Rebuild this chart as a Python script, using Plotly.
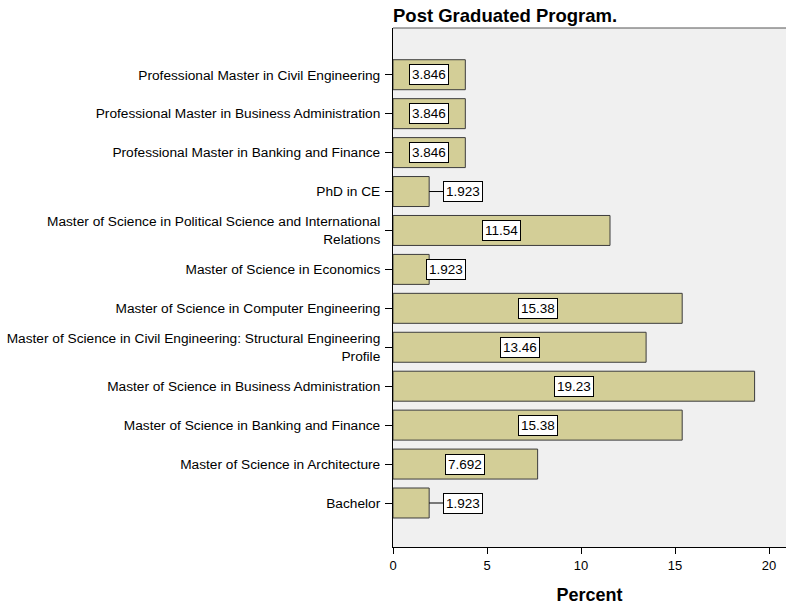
import plotly.graph_objects as go

# Programs, listed top to bottom as in the chart
programs = [
    "Professional Master in Civil Engineering",
    "Professional Master in Business Administration",
    "Professional Master in Banking and Finance",
    "PhD in CE",
    "Master of Science in Political Science and International<br>Relations",
    "Master of Science in Economics",
    "Master of Science in Computer Engineering",
    "Master of Science in Civil Engineering: Structural Engineering<br>Profile",
    "Master of Science in Business Administration",
    "Master of Science in Banking and Finance",
    "Master of Science in Architecture",
    "Bachelor",
]
percent = [3.846, 3.846, 3.846, 1.923, 11.54, 1.923, 15.38, 13.46, 19.23, 15.38, 7.692, 1.923]
# where each value label goes: inside the bar, outside with a leader line, or at the bar end
label_mode = ["in", "in", "in", "out", "in", "edge", "in", "in", "in", "in", "in", "out"]

font = "Liberation Sans, Arial, sans-serif"

fig = go.Figure(go.Bar(
    x=percent, y=programs, orientation="h", width=0.77,
    marker=dict(color="#D3CE97", line=dict(color="#3C3C3C", width=1)),
))

# value labels in white boxes
for prog, val, mode in zip(programs, percent, label_mode):
    box = dict(text=f"{val:.4g}", y=prog, yref="y", xref="x",
               font=dict(family=font, size=13.5, color="black"),
               bgcolor="white", bordercolor="black", borderwidth=1, borderpad=2)
    if mode == "in":
        fig.add_annotation(x=val / 2, showarrow=False, **box)
    elif mode == "out":
        fig.add_annotation(x=val, showarrow=True, arrowhead=0, arrowwidth=1,
                           arrowcolor="black", ax=34, ay=0, standoff=0, **box)
    else:
        fig.add_annotation(x=val, showarrow=False, xanchor="left", xshift=-3, **box)

fig.update_layout(
    width=786, height=605,
    margin=dict(l=393, r=0, t=28, b=58),
    paper_bgcolor="white", plot_bgcolor="#F0F0F0",
    font=dict(family=font, size=13.7, color="black"),
    showlegend=False,
    title=dict(text="<b>Post Graduated Program.</b>", font=dict(size=18.5),
               xref="paper", x=0, xanchor="left", yref="container", y=0.975, yanchor="middle"),
    xaxis=dict(range=[0, 20.9], tickvals=[0, 5, 10, 15, 20], showgrid=False, zeroline=False,
               showline=True, linecolor="black", linewidth=1, automargin=False,
               ticks="outside", ticklen=6, tickcolor="black", tickfont=dict(size=13),
               title=dict(text="<b>Percent</b>", font=dict(size=18), standoff=20)),
    yaxis=dict(range=[12.13, -1.2], showgrid=False, zeroline=False,
               showline=True, linecolor="black", linewidth=1, automargin=False,
               ticks="outside", ticklen=7, tickcolor="black", ticklabelstandoff=2),
)
# thin border along the top of the plot area
fig.add_shape(type="line", xref="paper", yref="paper", x0=0, x1=1, y0=1, y1=1,
              line=dict(color="#555555", width=1))

# drop the page's default body margin so the figure sits at the window's corner
fig.write_html("out.html", config={"displayModeBar": False},
               post_script="document.body.style.margin='0';")
